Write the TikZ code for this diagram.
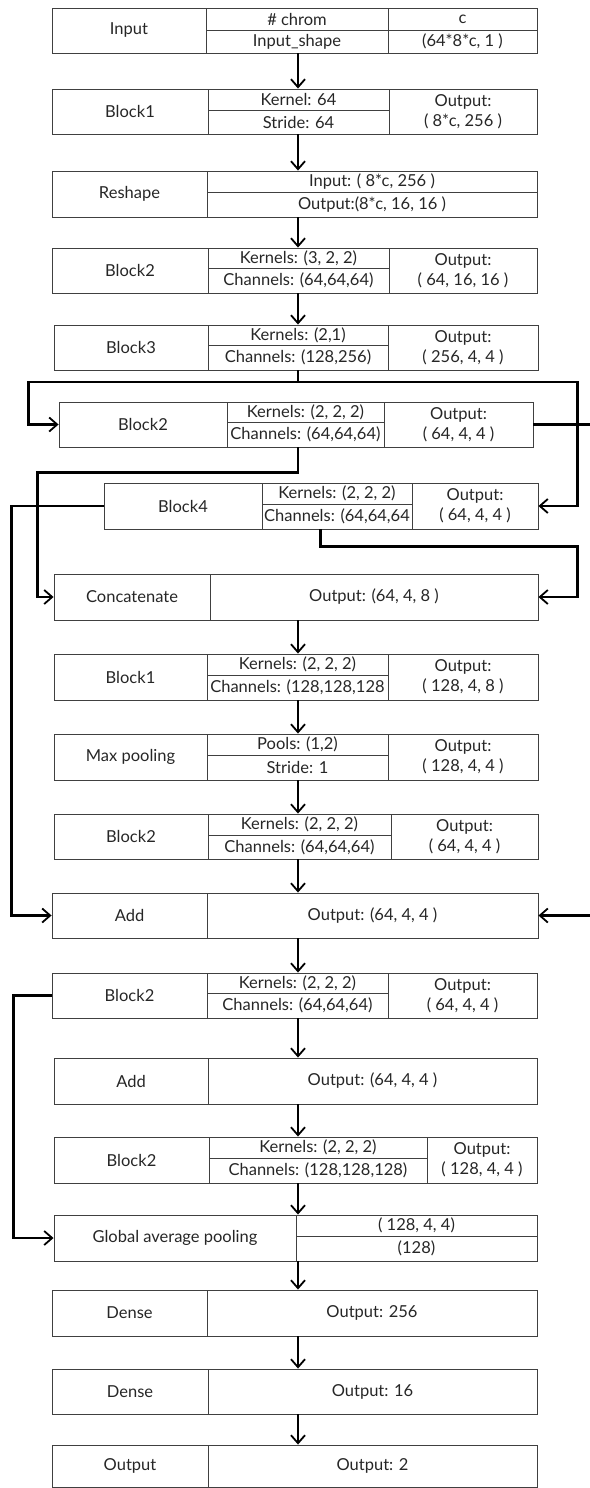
\documentclass[tikz,border=0pt]{standalone}
\usepackage{fontspec}
\setmainfont{Lato}
\usetikzlibrary{arrows.meta}

% cell: name, x0, y0, x1, y1, text
\newcommand{\cell}[6]{%
  \node[cell, minimum width={#4pt-#2pt}, minimum height={#5pt-#3pt},
    label={[celltext]center:{#6}}] (#1) at ({(#2+#4)/2},{(#3+#5)/2}) {};}

\begin{document}
\begin{tikzpicture}[
    x=1pt, y=-1pt,
    cell/.style={draw=black!75, line width=0.9pt, inner sep=0pt},
    celltext/.style={font=\fontsize{16.5}{20}\selectfont, text=black!85, align=center, inner sep=0pt},
    flow/.style={line width=2.8pt, -{Straight Barb[length=8pt,width=14pt,line width=1.8pt]}}
  ]
  \useasboundingbox (0,0) rectangle (589,1488);
  \coordinate (spine) at (298,0);
  \coordinate (split) at (298,382);
  \coordinate (offpage) at (596,0);

  % Input
  \cell{inp}{52}{8}{206}{53}{Input}
  \cell{inpchr}{206}{8}{388}{30}{\# chrom}
  \cell{inpshp}{206}{30}{388}{53}{Input\_shape}
  \cell{inpc}{388}{8}{537}{30}{c}
  \cell{inpdim}{388}{30}{537}{53}{(64*8*c, 1 )}
  % Block1
  \cell{blk1a}{52}{89}{208}{134}{Block1}
  \cell{blk1ak}{208}{89}{389}{110}{Kernel: 64}
  \cell{blk1as}{208}{110}{389}{134}{Stride: 64}
  \cell{blk1ao}{389}{89}{537}{134}{Output:\\( 8*c, 256 )}
  % Reshape
  \cell{resh}{52}{171}{207}{217}{Reshape}
  \cell{reshin}{207}{171}{537}{192}{Input: ( 8*c, 256 )}
  \cell{reshout}{207}{192}{537}{217}{Output:(8*c, 16, 16 )}
  % Block2
  \cell{blk2a}{52}{248}{208}{293}{Block2}
  \cell{blk2ak}{208}{248}{389}{268}{Kernels: (3, 2, 2)}
  \cell{blk2ac}{208}{268}{389}{293}{Channels: (64,64,64)}
  \cell{blk2ao}{389}{248}{537}{293}{Output:\\( 64, 16, 16 )}
  % Block3
  \cell{blk3}{54}{325}{208}{370}{Block3}
  \cell{blk3k}{208}{325}{388}{345}{Kernels: (2,1)}
  \cell{blk3c}{208}{345}{388}{370}{Channels: (128,256)}
  \cell{blk3o}{388}{325}{538}{370}{Output:\\( 256, 4, 4 )}
  % Block2
  \cell{blk2b}{59}{402}{227}{447}{Block2}
  \cell{blk2bk}{227}{402}{384}{422}{Kernels: (2, 2, 2)}
  \cell{blk2bc}{227}{422}{384}{447}{Channels: (64,64,64)}
  \cell{blk2bo}{384}{402}{533}{447}{Output:\\( 64, 4, 4 )}
  % Block4
  \cell{blk4}{104}{483}{262}{529}{Block4}
  \cell{blk4k}{262}{483}{412}{504}{Kernels: (2, 2, 2)}
  \cell{blk4c}{262}{504}{412}{529}{Channels: (64,64,64}
  \cell{blk4o}{412}{483}{538}{529}{Output:\\( 64, 4, 4 )}
  % Concatenate
  \cell{cat}{54}{574}{210}{620}{Concatenate}
  \cell{catout}{210}{574}{538}{620}{Output: (64, 4, 8 )}
  % Block1
  \cell{blk1b}{54}{654}{207}{700}{Block1}
  \cell{blk1bk}{207}{654}{388}{675}{Kernels: (2, 2, 2)}
  \cell{blk1bc}{207}{675}{388}{700}{Channels: (128,128,128}
  \cell{blk1bo}{388}{654}{538}{700}{Output:\\( 128, 4, 8 )}
  % Max pooling
  \cell{pool}{54}{734}{207}{780}{Max pooling}
  \cell{poolk}{207}{734}{388}{755}{Pools: (1,2)}
  \cell{pools}{207}{755}{388}{780}{Stride: 1}
  \cell{poolo}{388}{734}{538}{780}{Output:\\( 128, 4, 4 )}
  % Block2
  \cell{blk2c}{54}{814}{208}{859}{Block2}
  \cell{blk2ck}{208}{814}{391}{835}{Kernels: (2, 2, 2)}
  \cell{blk2cc}{208}{835}{391}{859}{Channels: (64,64,64)}
  \cell{blk2co}{391}{814}{538}{859}{Output:\\( 64, 4, 4 )}
  % Add
  \cell{adda}{52}{893}{207}{938}{Add}
  \cell{addaout}{207}{893}{538}{938}{Output: (64, 4, 4 )}
  % Block2
  \cell{blk2d}{52}{973}{207}{1018}{Block2}
  \cell{blk2dk}{207}{973}{388}{993}{Kernels: (2, 2, 2)}
  \cell{blk2dc}{207}{993}{388}{1018}{Channels: (64,64,64)}
  \cell{blk2do}{388}{973}{537}{1018}{Output:\\( 64, 4, 4 )}
  % Add
  \cell{addb}{54}{1058}{208}{1104}{Add}
  \cell{addbout}{208}{1058}{537}{1104}{Output: (64, 4, 4 )}
  % Block2
  \cell{blk2e}{54}{1137}{209}{1183}{Block2}
  \cell{blk2ek}{209}{1137}{427}{1158}{Kernels: (2, 2, 2)}
  \cell{blk2ec}{209}{1158}{427}{1183}{Channels: (128,128,128)}
  \cell{blk2eo}{427}{1137}{537}{1183}{Output:\\( 128, 4, 4 )}
  % Global average pooling
  \cell{gap}{54}{1215}{296}{1261}{Global average pooling}
  \cell{gapin}{296}{1215}{537}{1236}{( 128, 4, 4)}
  \cell{gapout}{296}{1236}{537}{1261}{(128)}
  % Dense, Dense, Output
  \cell{densea}{52}{1290}{207}{1336}{Dense}
  \cell{denseaout}{207}{1290}{537}{1336}{Output: 256}
  \cell{denseb}{52}{1369}{208}{1414}{Dense}
  \cell{densebout}{208}{1369}{537}{1414}{Output: 16}
  \cell{outp}{52}{1445}{208}{1487}{Output}
  \cell{outpout}{208}{1445}{537}{1487}{Output: 2}

  % straight arrows down the middle
  \foreach \a/\b in {inpshp/blk1ak, blk1as/reshin, reshout/blk2ak, blk2ac/blk3k,
      catout/blk1bk, blk1bc/poolk, pools/blk2ck, blk2cc/addaout, addaout/blk2dk,
      blk2dc/addbout, addbout/blk2ek, blk2ec/gapin, gapout/denseaout,
      denseaout/densebout, densebout/outpout}
    \draw[flow] (\a.south -| spine) -- (\b.north -| spine);

  % branches
  \draw[flow] (blk3c.south -| spine) -- (split) -| ([xshift=-30pt]blk2b.west) -- (blk2b.west);
  \draw[flow] (split) -| ([xshift=39pt]blk4o.east) -- (blk4o.east);
  \draw[flow] (blk2bc.south -| spine) -- ++(0,25) -| ([xshift=-16pt]cat.west) -- (cat.west);
  \draw[flow] (blk2bo.east) -- (blk2bo.east -| offpage) |- (addaout.east);
  \draw[flow] (blk4.west) -| ([xshift=-40pt]adda.west) -- (adda.west);
  \draw[flow] ([xshift=59pt]blk4c.south west) -- ++(0,17) -| ([xshift=39pt]catout.east) -- (catout.east);
  \draw[flow] (blk2d.west) -| ([xshift=-40pt]gap.west) -- (gap.west);
\end{tikzpicture}
\end{document}
